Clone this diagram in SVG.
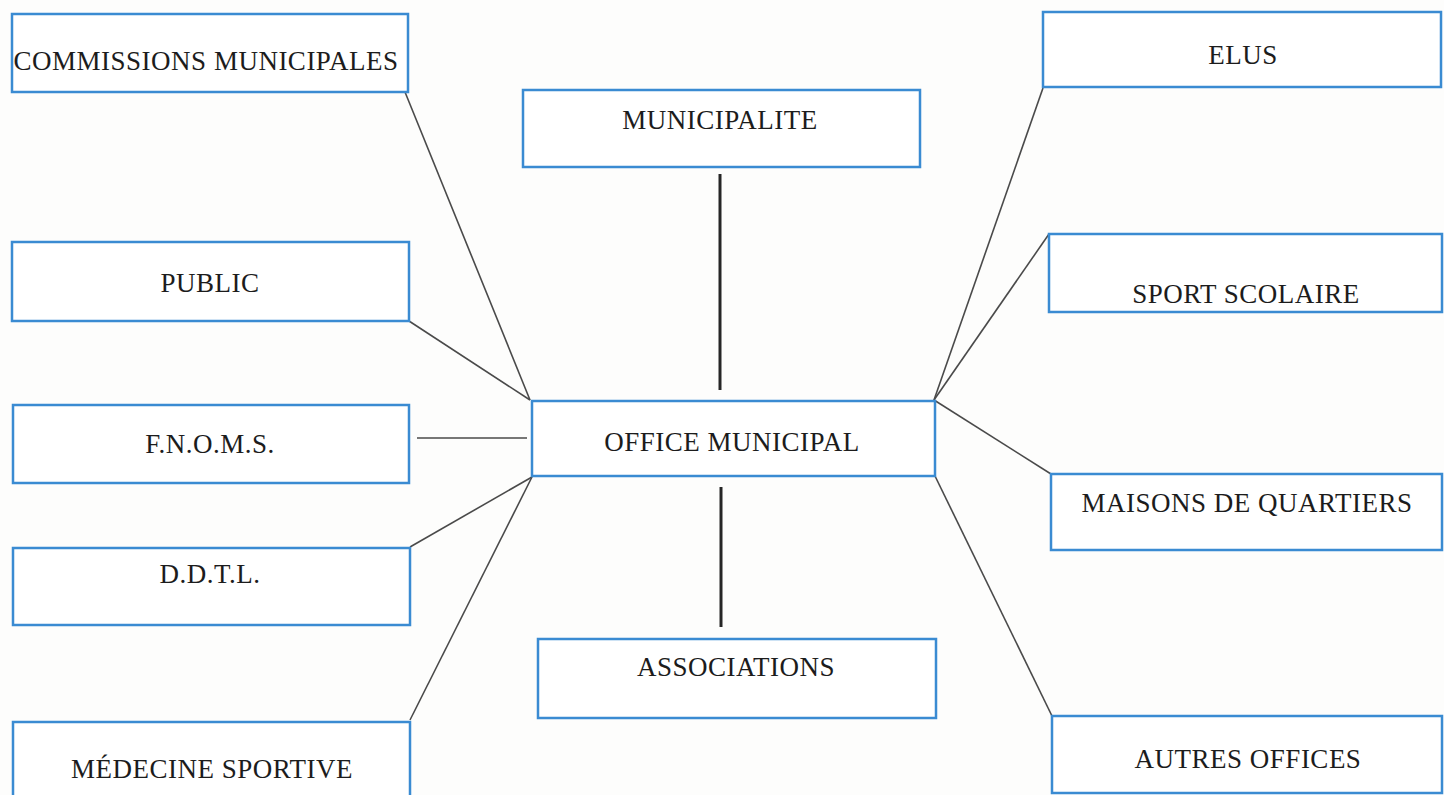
<svg xmlns="http://www.w3.org/2000/svg" width="1444" height="795" viewBox="0 0 1444 795">
  <style>
    .box { fill: #ffffff; stroke: #3a8bd2; stroke-width: 2.5; }
    .lbl { font-family: "Liberation Serif", "Times New Roman", serif; font-size: 27px; letter-spacing: 0.5px; fill: #1c1c1c; text-anchor: middle; }
    .link { stroke: #4a4a4a; stroke-width: 1.6; fill: none; }
    .stem { stroke: #262626; stroke-width: 3; fill: none; }
  </style>
  <rect x="0" y="0" width="1444" height="795" fill="#fdfdfc"/>
  <g id="connectors">
    <line class="link" x1="405" y1="92" x2="530" y2="400"/>
    <line class="link" x1="409" y1="321" x2="530" y2="400"/>
    <line class="link" x1="417" y1="438" x2="527" y2="438"/>
    <line class="link" x1="410" y1="547" x2="532" y2="477"/>
    <line class="link" x1="410" y1="720" x2="532" y2="477"/>
    <line class="link" x1="1043" y1="88" x2="934" y2="400"/>
    <line class="link" x1="1049" y1="234" x2="934" y2="400"/>
    <line class="link" x1="934" y1="400" x2="1051" y2="474"/>
    <line class="link" x1="935" y1="476" x2="1052" y2="716"/>
    <line class="stem" x1="720" y1="174" x2="720" y2="390"/>
    <line class="stem" x1="721" y1="487" x2="721" y2="627"/>
  </g>
  <g id="commissions">
    <rect class="box" x="12" y="14" width="396" height="78"/>
    <text class="lbl" x="206" y="70">COMMISSIONS MUNICIPALES</text>
  </g>
  <g id="public">
    <rect class="box" x="12" y="242" width="397" height="79"/>
    <text class="lbl" x="210" y="292">PUBLIC</text>
  </g>
  <g id="fnoms">
    <rect class="box" x="13" y="405" width="396" height="78"/>
    <text class="lbl" x="210" y="453">F.N.O.M.S.</text>
  </g>
  <g id="ddtl">
    <rect class="box" x="13" y="548" width="397" height="77"/>
    <text class="lbl" x="210" y="583">D.D.T.L.</text>
  </g>
  <g id="medecine">
    <rect class="box" x="13" y="722" width="397" height="80"/>
    <text class="lbl" x="212" y="778">MÉDECINE SPORTIVE</text>
  </g>
  <g id="municipalite">
    <rect class="box" x="523" y="90" width="397" height="77"/>
    <text class="lbl" x="720" y="129">MUNICIPALITE</text>
  </g>
  <g id="office">
    <rect class="box" x="532" y="401" width="403" height="75"/>
    <text class="lbl" x="732" y="451">OFFICE MUNICIPAL</text>
  </g>
  <g id="associations">
    <rect class="box" x="538" y="639" width="398" height="79"/>
    <text class="lbl" x="736" y="676">ASSOCIATIONS</text>
  </g>
  <g id="elus">
    <rect class="box" x="1043" y="12" width="398" height="75"/>
    <text class="lbl" x="1243" y="64">ELUS</text>
  </g>
  <g id="sport">
    <rect class="box" x="1049" y="234" width="393" height="78"/>
    <text class="lbl" x="1246" y="303">SPORT SCOLAIRE</text>
  </g>
  <g id="maisons">
    <rect class="box" x="1051" y="474" width="391" height="76"/>
    <text class="lbl" x="1247" y="512">MAISONS DE QUARTIERS</text>
  </g>
  <g id="autres">
    <rect class="box" x="1052" y="716" width="390" height="77"/>
    <text class="lbl" x="1248" y="768">AUTRES OFFICES</text>
  </g>
</svg>
